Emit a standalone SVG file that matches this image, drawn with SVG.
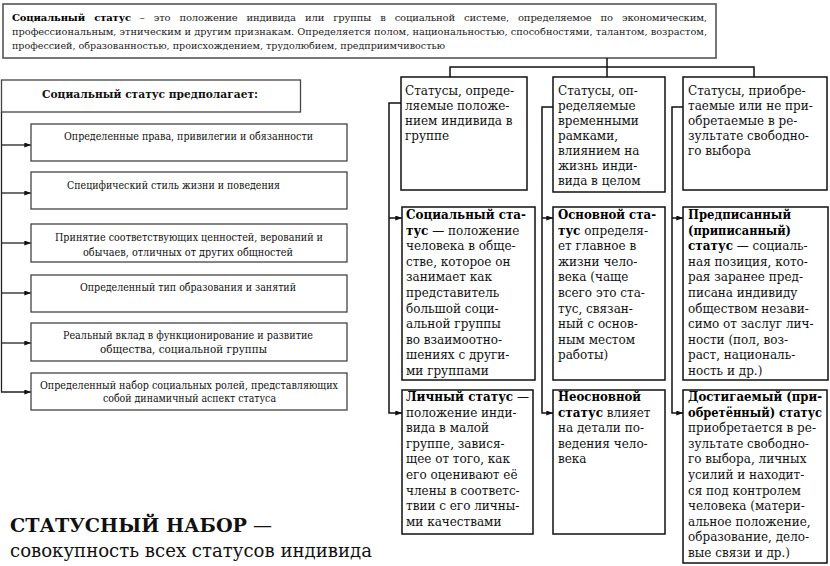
<svg xmlns="http://www.w3.org/2000/svg" width="830" height="566" viewBox="0 0 830 566">
<defs>
<style>
.top{font-family:"DejaVu Serif",serif;font-size:10px;fill:#222}
.lb{fill:#fff;stroke:#444;stroke-width:1.3}
.lt{font-family:"DejaVu Serif",serif;font-size:10.5px;fill:#111}
.rb{fill:#fff;stroke:#111;stroke-width:1.5}
.rt{font-family:"DejaVu Serif",serif;font-size:12px;fill:#111}
.b{font-weight:bold;fill:#000}
.con{fill:none;stroke:#222;stroke-width:1.3}
.cr{fill:none;stroke:#111;stroke-width:1.5}
.big{font-family:"DejaVu Serif",serif;fill:#111}
</style>
<marker id="ar" viewBox="0 0 8 6" refX="8" refY="3" markerWidth="7" markerHeight="5" markerUnits="userSpaceOnUse" orient="auto">
<path d="M0,0 L8,3 L0,6 Z" fill="#111"/>
</marker>
</defs>

<g id="definition">
<rect x="3" y="4" width="713" height="54" fill="#fff" stroke="#555" stroke-width="1.6"/>
<text class="top" x="12" y="20.5" word-spacing="6" textLength="695" lengthAdjust="spacing"><tspan class="b">Социальный статус</tspan> – это положение индивида или группы в социальной системе, определяемое по экономическим,</text>
<text class="top" x="12" y="34.5" textLength="695" lengthAdjust="spacingAndGlyphs">профессиональным, этническим и другим признакам. Определяется полом, национальностью, способностями, талантом, возрастом,</text>
<text class="top" x="12" y="48.5" textLength="433" lengthAdjust="spacingAndGlyphs">профессией, образованностью, происхождением, трудолюбием, предприимчивостью</text>
</g>

<g id="connectors">
<path class="con" d="M1.5,112 V392 H31" marker-end="url(#ar)"/>
<path class="con" d="M1.5,145 H31" marker-end="url(#ar)"/>
<path class="con" d="M1.5,193 H31" marker-end="url(#ar)"/>
<path class="con" d="M1.5,243 H31" marker-end="url(#ar)"/>
<path class="con" d="M1.5,293 H31" marker-end="url(#ar)"/>
<path class="con" d="M1.5,343 H31" marker-end="url(#ar)"/>
<path class="cr" d="M607,58 V77"/>
<path class="cr" d="M450,77 V67 H754 V77"/>
<path class="cr" d="M401,103 H389 V413 H402" marker-end="url(#ar)"/>
<path class="cr" d="M389,218 H402" marker-end="url(#ar)"/>
<path class="cr" d="M553,107 H542 V413 H553" marker-end="url(#ar)"/>
<path class="cr" d="M542,218 H553" marker-end="url(#ar)"/>
<path class="cr" d="M683,107 H672 V413 H683" marker-end="url(#ar)"/>
<path class="cr" d="M672,218 H683" marker-end="url(#ar)"/>
</g>

<g id="implies">
<rect x="1.5" y="80" width="299" height="32" fill="#fff" stroke="#444" stroke-width="1.3"/>
<text x="150" y="97.5" text-anchor="middle" class="big" font-size="11.5" font-weight="bold" textLength="216" lengthAdjust="spacingAndGlyphs">Социальный статус предполагает:</text>
</g>

<g id="rights">
<rect class="lb" x="31" y="124" width="316" height="37"/>
<text class="lt" x="188.5" y="139.5" text-anchor="middle" textLength="249" lengthAdjust="spacingAndGlyphs">Определенные права, привилегии и обязанности</text>
</g>
<g id="style">
<rect class="lb" x="31" y="172" width="316" height="37"/>
<text class="lt" x="67" y="188.5" textLength="213" lengthAdjust="spacingAndGlyphs">Специфический стиль жизни и поведения</text>
</g>
<g id="values">
<rect class="lb" x="31" y="224" width="316" height="38"/>
<text class="lt" x="189" y="240.5" text-anchor="middle" textLength="268" lengthAdjust="spacingAndGlyphs">Принятие соответствующих ценностей, верований и</text>
<text class="lt" x="188" y="255.5" text-anchor="middle" textLength="210" lengthAdjust="spacingAndGlyphs">обычаев, отличных от других общностей</text>
</g>
<g id="education">
<rect class="lb" x="31" y="275" width="316" height="37"/>
<text class="lt" x="188" y="290.5" text-anchor="middle" textLength="216" lengthAdjust="spacingAndGlyphs">Определенный тип образования и занятий</text>
</g>
<g id="contribution">
<rect class="lb" x="31" y="323" width="316" height="38"/>
<text class="lt" x="188" y="338.5" text-anchor="middle" textLength="250" lengthAdjust="spacingAndGlyphs">Реальный вклад в функционирование и развитие</text>
<text class="lt" x="183.5" y="352.5" text-anchor="middle" textLength="167" lengthAdjust="spacingAndGlyphs">общества, социальной группы</text>
</g>
<g id="roles">
<rect class="lb" x="31" y="373" width="316" height="37"/>
<text class="lt" x="189" y="388.5" text-anchor="middle" textLength="298" lengthAdjust="spacingAndGlyphs">Определенный набор социальных ролей, представляющих</text>
<text class="lt" x="189.5" y="401.5" text-anchor="middle" textLength="173" lengthAdjust="spacingAndGlyphs">собой динамичный аспект статуса</text>
</g>

<g id="group-position">
<rect class="rb" x="401" y="77" width="126" height="113"/>
<text class="rt"><tspan x="405" y="95">Статусы, опреде-</tspan><tspan x="405" y="110">ляемые положе-</tspan><tspan x="405" y="125">нием индивида в</tspan><tspan x="405" y="140">группе</tspan></text>
</g>
<g id="time-frame">
<rect class="rb" x="553" y="77" width="112" height="115"/>
<text class="rt"><tspan x="558" y="95">Статусы, оп-</tspan><tspan x="558" y="110">ределяемые</tspan><tspan x="558" y="125">временными</tspan><tspan x="558" y="140">рамками,</tspan><tspan x="558" y="155">влиянием на</tspan><tspan x="558" y="170">жизнь инди-</tspan><tspan x="558" y="185">вида в целом</tspan></text>
</g>
<g id="free-choice">
<rect class="rb" x="683" y="77" width="144" height="113"/>
<text class="rt"><tspan x="688" y="95">Статусы, приобре-</tspan><tspan x="688" y="110">таемые или не при-</tspan><tspan x="688" y="125">обретаемые в ре-</tspan><tspan x="688" y="140">зультате свободно-</tspan><tspan x="688" y="155">го выбора</tspan></text>
</g>

<g id="social-status">
<rect class="rb" x="402" y="207" width="133" height="173"/>
<text class="rt b" x="406" y="219" textLength="120" lengthAdjust="spacingAndGlyphs">Социальный ста-</text>
<text class="rt"><tspan x="406" y="234.6"><tspan class="b">тус</tspan> — положение</tspan><tspan x="406" y="250.2">человека в обще-</tspan><tspan x="406" y="265.8">стве, которое он</tspan><tspan x="406" y="281.4">занимает как</tspan><tspan x="406" y="297">представитель</tspan><tspan x="406" y="312.6">большой соци-</tspan><tspan x="406" y="328.2">альной группы</tspan><tspan x="406" y="343.8">во взаимоотно-</tspan><tspan x="406" y="359.4">шениях с други-</tspan><tspan x="406" y="375">ми группами</tspan></text>
</g>
<g id="main-status">
<rect class="rb" x="553" y="207" width="112" height="173"/>
<text class="rt b" x="558" y="219" textLength="98" lengthAdjust="spacingAndGlyphs">Основной ста-</text>
<text class="rt"><tspan x="558" y="234.6"><tspan class="b">тус</tspan> определя-</tspan><tspan x="558" y="250.2">ет главное в</tspan><tspan x="558" y="265.8">жизни чело-</tspan><tspan x="558" y="281.4">века (чаще</tspan><tspan x="558" y="297">всего это ста-</tspan><tspan x="558" y="312.6">тус, связан-</tspan><tspan x="558" y="328.2">ный с основ-</tspan><tspan x="558" y="343.8">ным местом</tspan><tspan x="558" y="359.4">работы)</tspan></text>
</g>
<g id="ascribed-status">
<rect class="rb" x="683" y="207" width="145" height="173"/>
<text class="rt b" x="688" y="219" textLength="103" lengthAdjust="spacingAndGlyphs">Предписанный</text>
<text class="rt b" x="688" y="234.6" textLength="103" lengthAdjust="spacingAndGlyphs">(приписанный)</text>
<text class="rt"><tspan x="688" y="250.2"><tspan class="b">статус</tspan> — социаль-</tspan><tspan x="688" y="265.8">ная позиция, кото-</tspan><tspan x="688" y="281.4">рая заранее пред-</tspan><tspan x="688" y="297">писана индивиду</tspan><tspan x="688" y="312.6">обществом незави-</tspan><tspan x="688" y="328.2">симо от заслуг лич-</tspan><tspan x="688" y="343.8">ности (пол, воз-</tspan><tspan x="688" y="359.4">раст, националь-</tspan><tspan x="688" y="375">ность и др.)</tspan></text>
</g>

<g id="personal-status">
<rect class="rb" x="402" y="390" width="131" height="144"/>
<text class="rt"><tspan x="406" y="401"><tspan class="b">Личный статус</tspan> —</tspan><tspan x="406" y="416.6">положение инди-</tspan><tspan x="406" y="432.2">вида в малой</tspan><tspan x="406" y="447.8">группе, завися-</tspan><tspan x="406" y="463.4">щее от того, как</tspan><tspan x="406" y="479">его оценивают её</tspan><tspan x="406" y="494.6">члены в соответс-</tspan><tspan x="406" y="510.2">твии с его личны-</tspan><tspan x="406" y="525.8">ми качествами</tspan></text>
</g>
<g id="secondary-status">
<rect class="rb" x="553" y="390" width="112" height="144"/>
<text class="rt b" x="558" y="401" textLength="83" lengthAdjust="spacingAndGlyphs">Неосновной</text>
<text class="rt"><tspan x="558" y="416.6"><tspan class="b">статус</tspan> влияет</tspan><tspan x="558" y="432.2">на детали по-</tspan><tspan x="558" y="447.8">ведения чело-</tspan><tspan x="558" y="463.4">века</tspan></text>
</g>
<g id="achieved-status">
<rect class="rb" x="683" y="390" width="144" height="173"/>
<text class="rt b" x="688" y="401" textLength="134" lengthAdjust="spacingAndGlyphs">Достигаемый (при-</text>
<text class="rt b" x="688" y="416.6" textLength="134" lengthAdjust="spacingAndGlyphs">обретённый) статус</text>
<text class="rt"><tspan x="688" y="432.2">приобретается в ре-</tspan><tspan x="688" y="447.8">зультате свободно-</tspan><tspan x="688" y="463.4">го выбора, личных</tspan><tspan x="688" y="479">усилий и находит-</tspan><tspan x="688" y="494.6">ся под контролем</tspan><tspan x="688" y="510.2">человека (матери-</tspan><tspan x="688" y="525.8">альное положение,</tspan><tspan x="688" y="541.4">образование, дело-</tspan><tspan x="688" y="557">вые связи и др.)</tspan></text>
</g>

<g id="status-set">
<text class="big" x="10" y="532" font-size="19" font-weight="bold" textLength="237" lengthAdjust="spacingAndGlyphs">СТАТУСНЫЙ НАБОР</text>
<text class="big" x="253" y="532" font-size="19" fill="#777">—</text>
<text class="big" x="10" y="557" font-size="18" textLength="362" lengthAdjust="spacingAndGlyphs">совокупность всех статусов индивида</text>
</g>
</svg>
